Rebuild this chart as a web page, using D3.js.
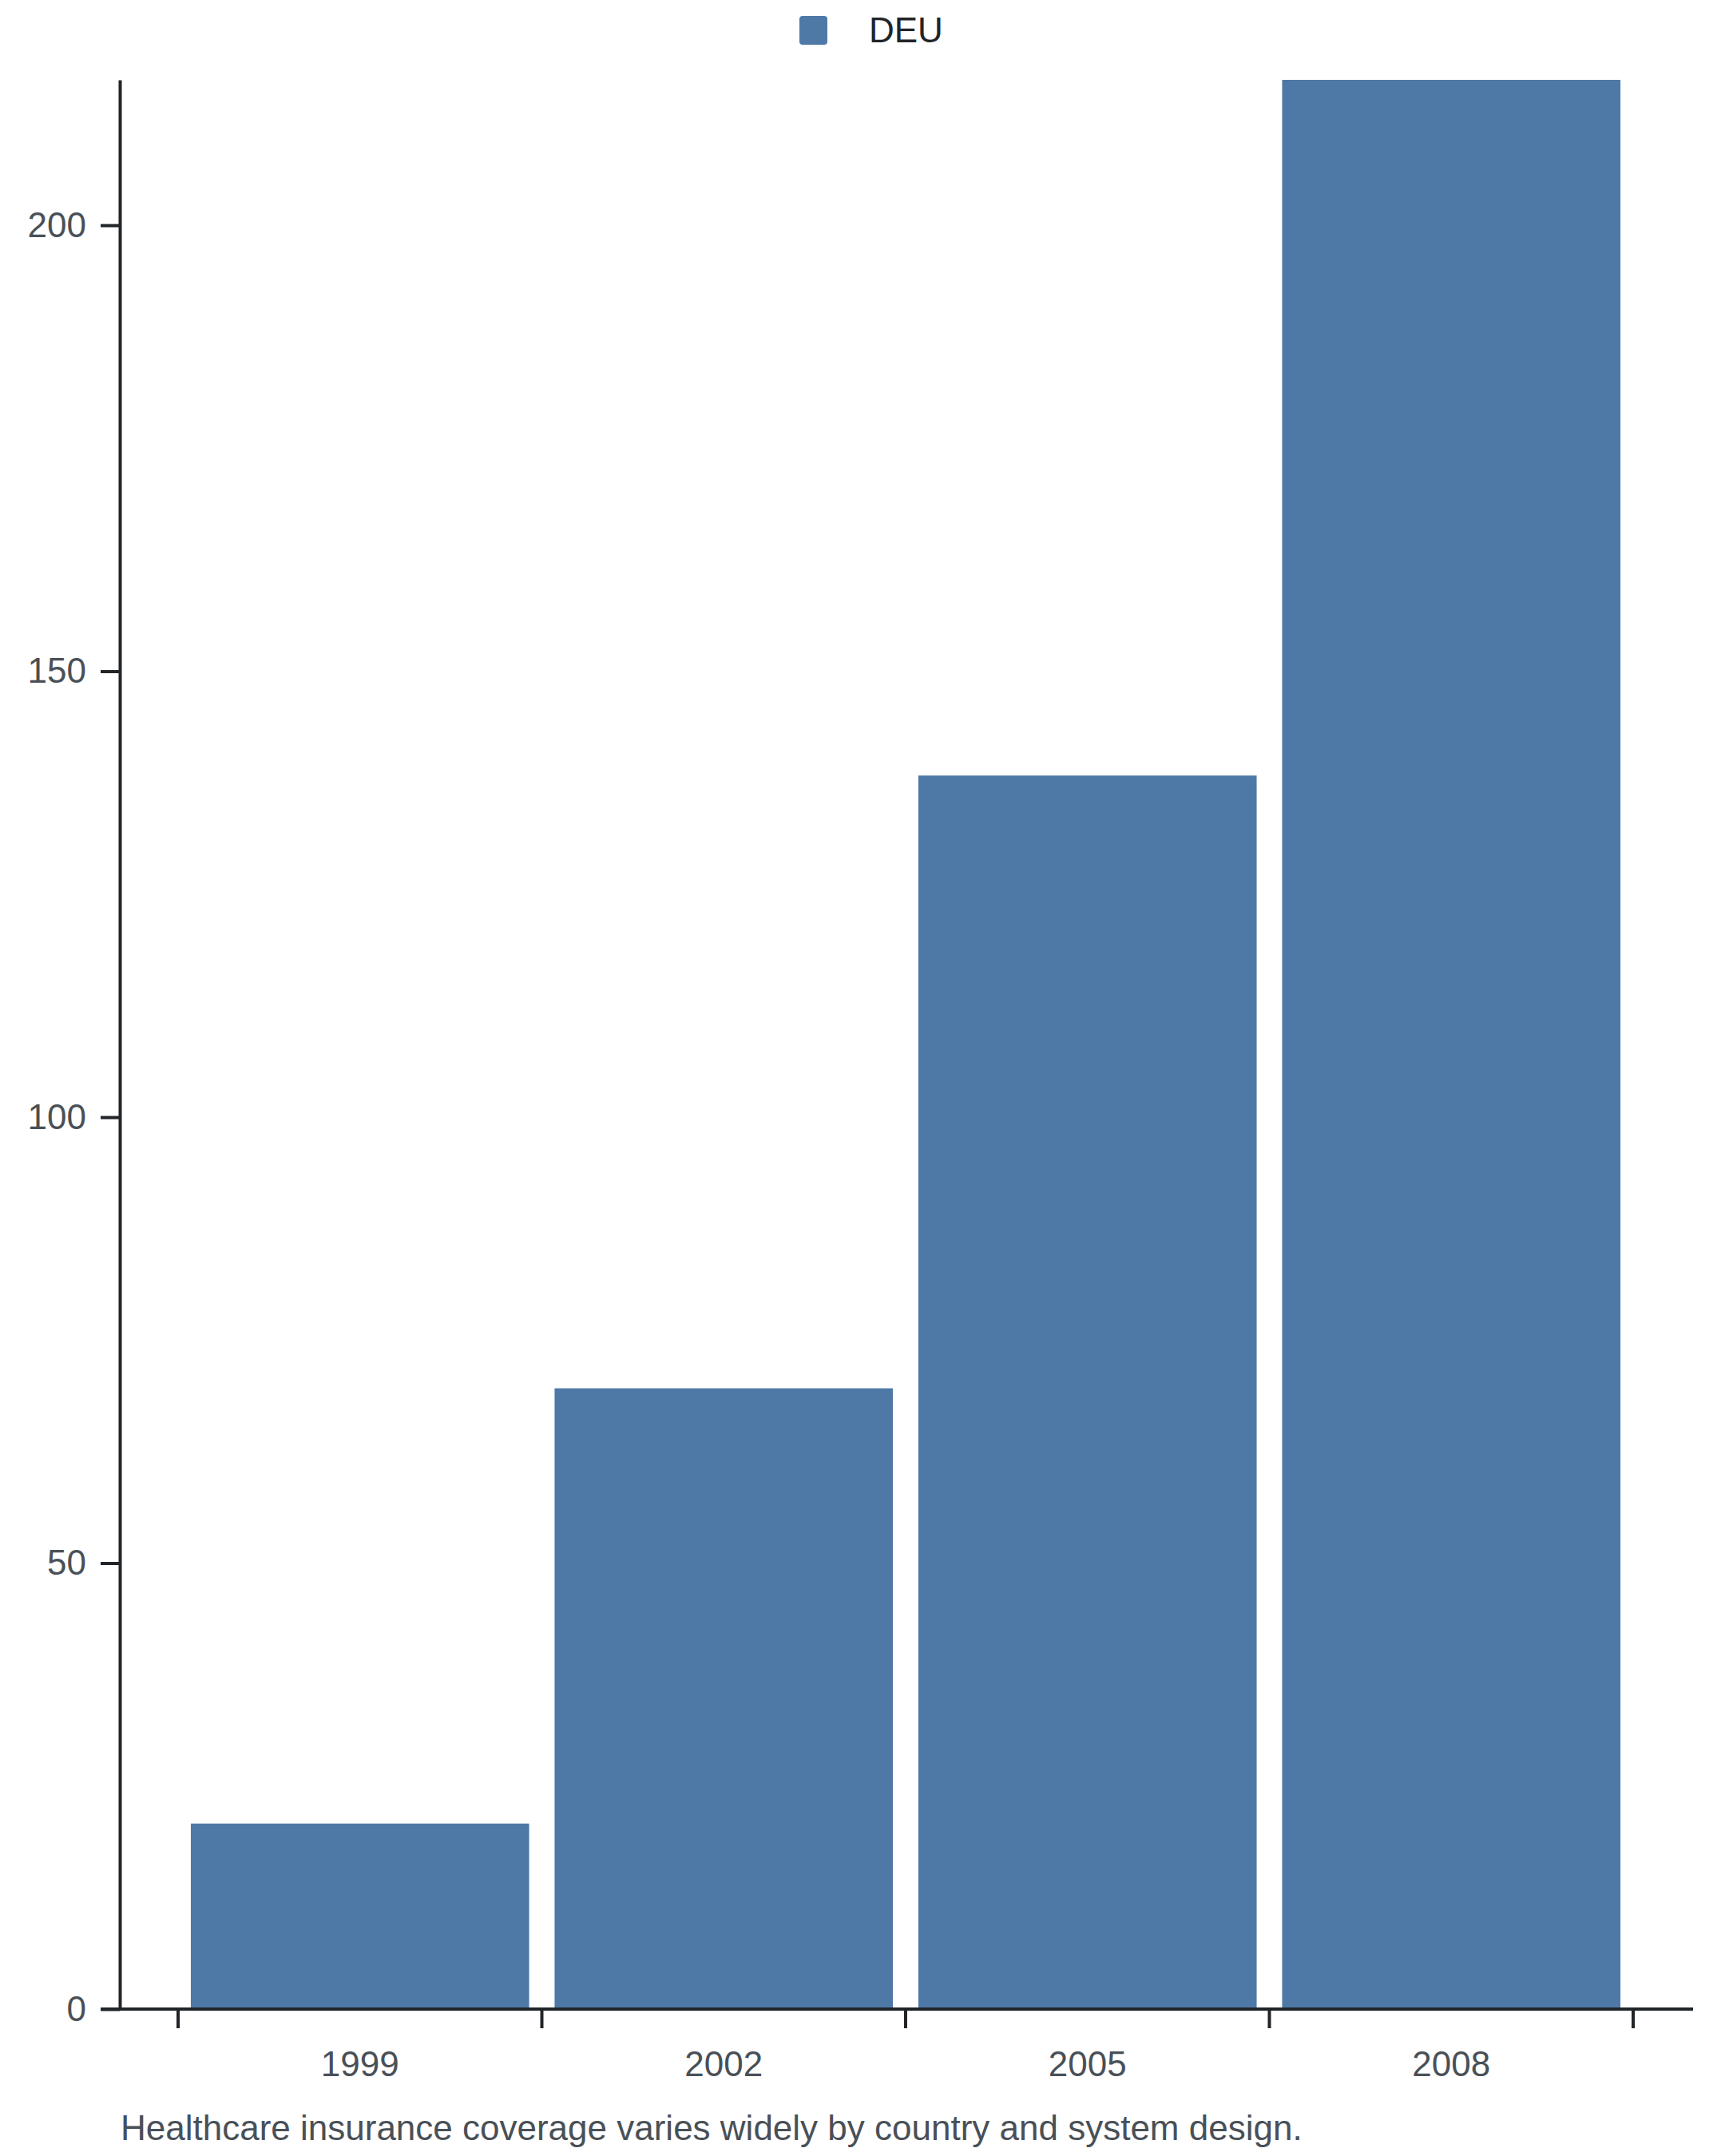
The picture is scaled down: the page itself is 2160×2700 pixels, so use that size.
<!DOCTYPE html>
<html>
<head>
<meta charset="utf-8">
<script src="https://cdn.jsdelivr.net/npm/d3@7"></script>
<style>
  body { margin: 0; background: #fff; }
  text { font-family: "Liberation Sans", Arial, sans-serif; }
</style>
</head>
<body>
<div id="vis"></div>
<script>
// data
const years = ['1999', '2002', '2005', '2008'];
const deuValues = [20.8, 69.6, 138.3, 216.3];
const yTicks = [0, 50, 100, 150, 200];
const seriesName = 'DEU';
const caption = 'Healthcare insurance coverage varies widely by country and system design.';

const W = 2160, H = 2700;
const plot = {left: 150, right: 2120, top: 100, bottom: 2516};
const barColor = '#4e79a7';
const axisColor = '#212529';
const labelColor = '#495057';

const svg = d3.select('#vis')
  .append('svg')
  .attr('width', W)
  .attr('height', H);

// band scale, ticks sit on the step boundaries
const xScale = d3.scaleBand()
  .domain(years)
  .range([223, 2045])
  .paddingInner(0.07)
  .paddingOuter(0.035);

const yScale = d3.scaleLinear()
  .domain([0, d3.max(deuValues)])
  .range([plot.bottom, plot.top]);

// bars
svg.append('g')
  .selectAll('rect')
  .data(years)
  .join('rect')
  .attr('x', d => xScale(d))
  .attr('y', (d, i) => yScale(deuValues[i]))
  .attr('width', xScale.bandwidth())
  .attr('height', (d, i) => yScale(0) - yScale(deuValues[i]))
  .attr('fill', barColor);

// y axis
const yAxis = d3.axisLeft(yScale)
  .tickValues(yTicks)
  .tickSize(24)
  .tickSizeOuter(0)
  .tickPadding(18);

const gy = svg.append('g')
  .attr('transform', `translate(${plot.left},0)`)
  .call(yAxis);
gy.select('.domain').attr('stroke', axisColor).attr('stroke-width', 4);
gy.selectAll('.tick line').attr('stroke', axisColor).attr('stroke-width', 4);
gy.selectAll('.tick text')
  .attr('fill', labelColor)
  .style('font-size', '44px');

// x axis: line, boundary ticks, centred labels
const step = xScale.step();
const edges = years.map(d => xScale(d) - xScale.paddingInner() * step / 2);
edges.push(edges[edges.length - 1] + step);

const gx = svg.append('g');
gx.append('line')
  .attr('x1', plot.left - 24)
  .attr('x2', plot.right)
  .attr('y1', plot.bottom)
  .attr('y2', plot.bottom)
  .attr('stroke', axisColor)
  .attr('stroke-width', 4);
gx.selectAll('.xtick')
  .data(edges)
  .join('line')
  .attr('class', 'xtick')
  .attr('x1', d => d)
  .attr('x2', d => d)
  .attr('y1', plot.bottom)
  .attr('y2', plot.bottom + 24)
  .attr('stroke', axisColor)
  .attr('stroke-width', 4);
gx.selectAll('.xlabel')
  .data(years)
  .join('text')
  .attr('class', 'xlabel')
  .attr('x', d => xScale(d) + xScale.bandwidth() / 2)
  .attr('y', 2600)
  .attr('text-anchor', 'middle')
  .attr('fill', labelColor)
  .style('font-size', '44px')
  .text(d => d);

// legend
const legend = svg.append('g');
legend.append('rect')
  .attr('x', 1001)
  .attr('y', 20)
  .attr('width', 35)
  .attr('height', 36)
  .attr('rx', 4)
  .attr('fill', barColor);
legend.append('text')
  .attr('x', 1088)
  .attr('y', 53)
  .attr('fill', axisColor)
  .style('font-size', '44px')
  .text(seriesName);

// caption
svg.append('text')
  .attr('x', 151)
  .attr('y', 2680)
  .attr('fill', labelColor)
  .style('font-size', '44px')
  .text(caption);
</script>
</body>
</html>
